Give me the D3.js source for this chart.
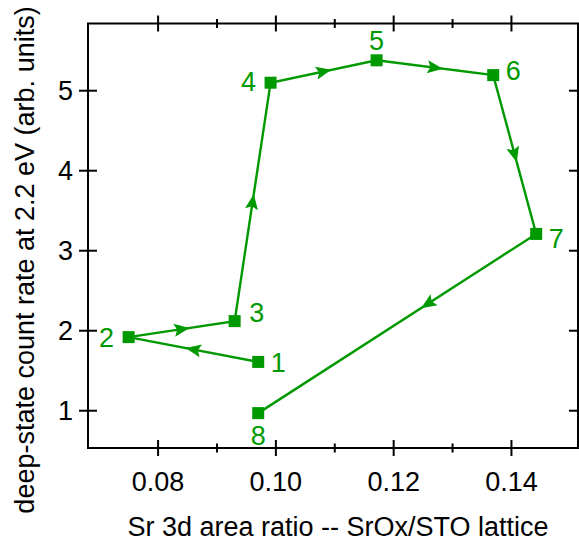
<!DOCTYPE html>
<html>
<head>
<meta charset="utf-8">
<script src="https://cdn.jsdelivr.net/npm/d3@7"></script>
<style>
	body { margin: 0; background: #fff; }
	text { font-family: "Liberation Sans", Arial, sans-serif; }
</style>
</head>
<body>
<svg id="chart" width="579" height="544"></svg>
<script>
	// data
	var labels = ["1", "2", "3", "4", "5", "6", "7", "8"];
	var ratio = [0.0970, 0.0750, 0.0930, 0.0991, 0.1171, 0.1369, 0.1442, 0.0970];
	var rate = [1.61, 1.92, 2.12, 5.10, 5.38, 5.195, 3.21, 0.97];
	var xTicks = [0.08, 0.10, 0.12, 0.14];
	var xMinor = [0.09, 0.11, 0.13];
	var yTicks = [1, 2, 3, 4, 5];
	// where along each segment the arrow sits
	var arrowAt = [0.5, 0.5, 0.5, 0.5, 0.5, 0.5, 0.39];

	var green = "#009900";
	var svg = d3.select("#chart");
	var pLeft = 88, pRight = 578, pTop = 23.5, pBottom = 448;

	var x = d3.scaleLinear().domain([0.0681, 0.1513]).range([pLeft, pRight]);
	var y = d3.scaleLinear().domain([0.534, 5.84]).range([pBottom, pTop]);

	// frame
	svg.append("rect")
		.attr("x", pLeft).attr("y", pTop)
		.attr("width", pRight - pLeft).attr("height", pBottom - pTop)
		.attr("fill", "none").attr("stroke", "#000").attr("stroke-width", 2);

	// ticks crossing the frame, bottom and top
	xTicks.forEach(function(t) {
		[pBottom, pTop].forEach(function(b) {
			svg.append("line").attr("x1", x(t)).attr("x2", x(t))
				.attr("y1", b - 8).attr("y2", b + 8)
				.attr("stroke", "#000").attr("stroke-width", 2);
		});
	});
	xMinor.forEach(function(t) {
		[pBottom, pTop].forEach(function(b) {
			svg.append("line").attr("x1", x(t)).attr("x2", x(t))
				.attr("y1", b - 4.5).attr("y2", b + 4.5)
				.attr("stroke", "#000").attr("stroke-width", 2);
		});
	});
	yTicks.forEach(function(t) {
		[pLeft, pRight].forEach(function(b) {
			svg.append("line").attr("y1", y(t)).attr("y2", y(t))
				.attr("x1", b - 9).attr("x2", b + 9)
				.attr("stroke", "#000").attr("stroke-width", 2);
		});
	});

	// tick labels
	svg.selectAll(".xl").data(xTicks).enter().append("text")
		.attr("x", function(d) { return x(d); })
		.attr("y", 491)
		.attr("text-anchor", "middle")
		.attr("font-size", 27)
		.text(function(d) { return d3.format(".2f")(d); });
	svg.selectAll(".yl").data(yTicks).enter().append("text")
		.attr("x", 73)
		.attr("y", function(d) { return y(d) + 9.5; })
		.attr("text-anchor", "end")
		.attr("font-size", 27)
		.text(function(d) { return d; });

	// axis titles
	svg.append("text")
		.attr("x", 338).attr("y", 536)
		.attr("text-anchor", "middle")
		.attr("font-size", 27)
		.text("Sr 3d area ratio -- SrOx/STO lattice");
	svg.append("text")
		.attr("transform", "translate(34,260) rotate(-90)")
		.attr("text-anchor", "middle")
		.attr("font-size", 27)
		.text("deep-state count rate at 2.2 eV (arb. units)");

	// path
	var pts = ratio.map(function(v, i) { return [x(v), y(rate[i])]; });
	svg.append("path")
		.attr("d", d3.line()(pts))
		.attr("fill", "none")
		.attr("stroke", green)
		.attr("stroke-width", 2.4);

	// arrowheads along each segment
	for (var i = 0; i < pts.length - 1; i++) {
		var a = pts[i], b = pts[i + 1];
		var f = arrowAt[i];
		var cx = a[0] + (b[0] - a[0]) * f;
		var cy = a[1] + (b[1] - a[1]) * f;
		var ang = Math.atan2(b[1] - a[1], b[0] - a[0]) * 180 / Math.PI;
		svg.append("path")
			.attr("d", "M8,0 L-7.5,-6.5 L-4.5,0 L-7.5,6.5 Z")
			.attr("transform", "translate(" + cx + "," + cy + ") rotate(" + ang + ")")
			.attr("fill", green);
	}

	// square markers
	svg.selectAll(".pt").data(pts).enter().append("rect")
		.attr("x", function(d) { return d[0] - 6; })
		.attr("y", function(d) { return d[1] - 6; })
		.attr("width", 12).attr("height", 12)
		.attr("fill", green);

	// point numbers
	var offs = [[20, 10], [-22, 10], [22, 1], [-22, 8], [0, -10], [20, 5], [20, 14], [0, 32]];
	svg.selectAll(".pl").data(pts).enter().append("text")
		.attr("x", function(d, i) { return d[0] + offs[i][0]; })
		.attr("y", function(d, i) { return d[1] + offs[i][1]; })
		.attr("text-anchor", "middle")
		.attr("font-size", 27)
		.attr("fill", green)
		.text(function(d, i) { return labels[i]; });
</script>
</body>
</html>
